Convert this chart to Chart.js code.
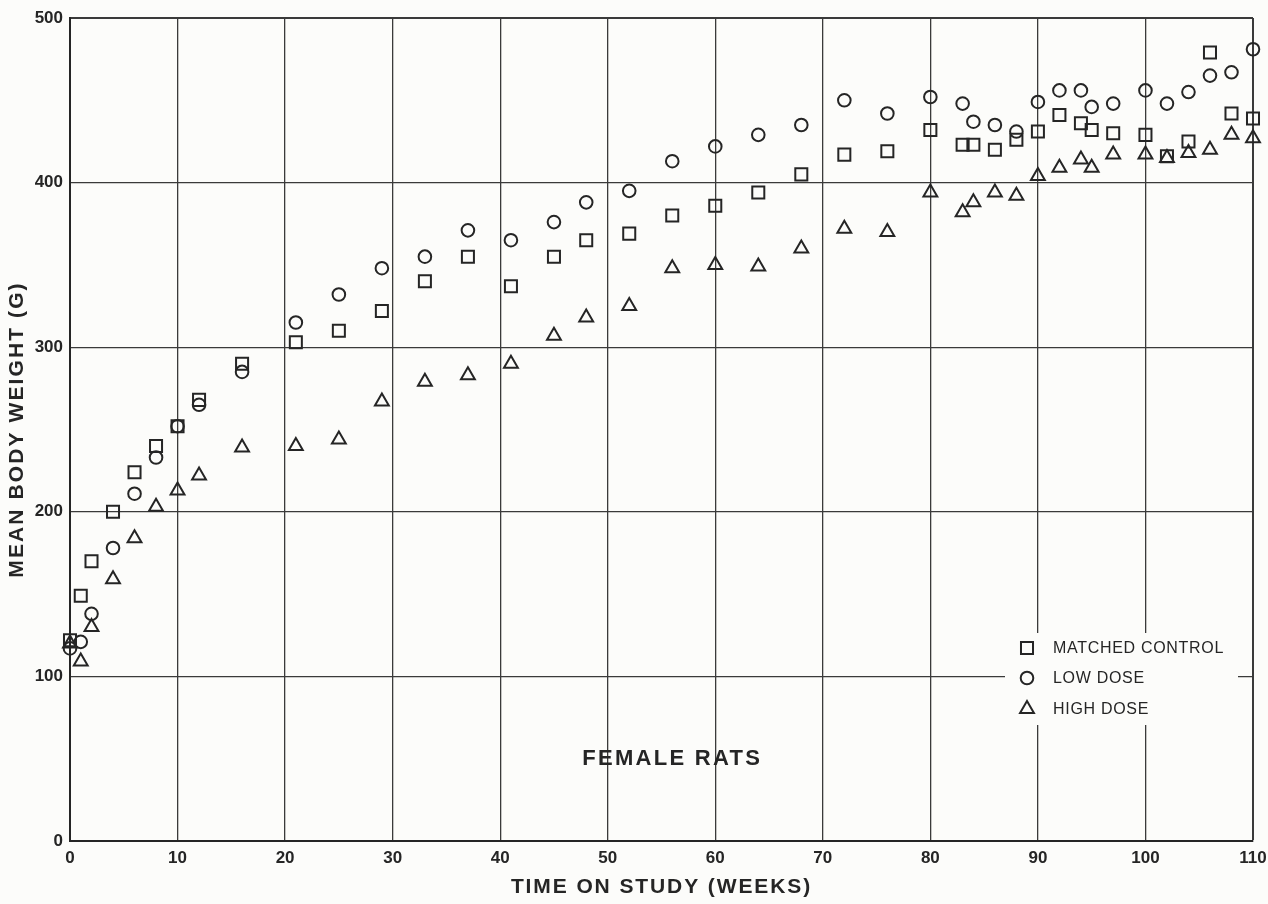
<!DOCTYPE html>
<html>
<head>
<meta charset="utf-8">
<script src="https://cdn.jsdelivr.net/npm/chart.js@4.4.0/dist/chart.umd.min.js"></script>
<style>
  html, body { margin: 0; padding: 0; background: #fcfcfa; }
  #wrap { width: 1268px; height: 904px; position: relative; }
</style>
</head>
<body>
<div id="wrap"><canvas id="c"></canvas></div>
<script>
// ---- data ----
const weeks = [0,1,2,4,6,8,10,12,16,21,25,29,33,37,41,45,48,52,56,60,64,68,72,76,80,83,84,86,88,90,92,94,95,97,100,102,104,106,108,110];
const matchedControl = [122,149,170,200,224,240,252,268,290,303,310,322,340,355,337,355,365,369,380,386,394,405,417,419,432,423,423,420,426,431,441,436,432,430,429,416,425,479,442,439];
const lowDose = [117,121,138,178,211,233,252,265,285,315,332,348,355,371,365,376,388,395,413,422,429,435,450,442,452,448,437,435,431,449,456,456,446,448,456,448,455,465,467,481];
const highDose = [120,109,130,159,184,203,213,222,239,240,244,267,279,283,290,307,318,325,348,350,349,360,372,370,394,382,388,394,392,404,409,414,409,417,417,415,418,420,429,427];
const seriesLabels = ['MATCHED CONTROL', 'LOW DOSE', 'HIGH DOSE'];
const xTickValues = [0,10,20,30,40,50,60,70,80,90,100,110];
const yTickValues = [0,100,200,300,400,500];
const xTitle = 'TIME ON STUDY (WEEKS)';
const yTitle = 'MEAN BODY WEIGHT (G)';
const panelNote = 'FEMALE RATS';

// ---- styling ----
const INK = '#252525';
const GRID = '#3a3a3a';
const BG = '#fcfcfa';
const FONT = "'Liberation Sans', Arial, Helvetica, sans-serif";

function pts(vals) { return weeks.map((w, i) => ({ x: w, y: vals[i] })); }

const markerBase = {
  showLine: false,
  borderColor: INK,
  backgroundColor: 'rgba(0,0,0,0)',
  pointBorderColor: INK,
  pointBackgroundColor: 'rgba(0,0,0,0)',
  pointBorderWidth: 2,
  pointHoverBorderWidth: 2,
  clip: false
};

const datasets = [
  Object.assign({}, markerBase, { label: seriesLabels[0], data: pts(matchedControl), pointStyle: 'rect', pointRadius: 8.5, pointHoverRadius: 8.5 }),
  Object.assign({}, markerBase, { label: seriesLabels[1], data: pts(lowDose), pointStyle: 'circle', pointRadius: 6.3, pointHoverRadius: 6.3 }),
  Object.assign({}, markerBase, { label: seriesLabels[2], data: pts(highDose), pointStyle: 'triangle', pointRadius: 8, pointHoverRadius: 8 })
];

const decor = {
  id: 'decor',
  afterUpdate(chart) {
    const spacing = { x: '1.9px', y: '2.1px' };
    for (const id of ['x', 'y']) {
      const s = chart.scales[id];
      if (s && !s._lsWrapped) {
        const orig = s.drawTitle.bind(s);
        s.drawTitle = function () {
          const ctx = this.ctx;
          ctx.save();
          ctx.letterSpacing = spacing[id];
          orig();
          ctx.restore();
        };
        s._lsWrapped = true;
      }
    }
  },
  beforeDatasetsDraw(chart) {
    const { ctx, chartArea: a } = chart;
    ctx.save();
    ctx.fillStyle = BG;
    ctx.fillRect(a.right - 248, a.bottom - 208, 233, 92);
    ctx.restore();
  },
  afterDatasetsDraw(chart) {
    const { ctx, chartArea: a, scales } = chart;
    // legend
    const rows = [a.bottom - 193, a.bottom - 163, a.bottom - 132];
    chart.data.datasets.forEach((ds, i) => {
      ctx.save();
      ctx.strokeStyle = INK;
      ctx.fillStyle = 'rgba(0,0,0,0)';
      ctx.lineWidth = 2;
      Chart.helpers.drawPoint(ctx, { pointStyle: ds.pointStyle, radius: ds.pointRadius, borderWidth: 2, rotation: 0 }, a.right - 226, rows[i]);
      ctx.restore();
      ctx.save();
      ctx.fillStyle = INK;
      ctx.font = `16px ${FONT}`;
      ctx.letterSpacing = '0.7px';
      ctx.textAlign = 'left';
      ctx.textBaseline = 'middle';
      ctx.fillText(ds.label, a.right - 200, rows[i] + 1);
      ctx.restore();
    });
    // panel note
    ctx.save();
    ctx.fillStyle = INK;
    ctx.font = `bold 22px ${FONT}`;
    ctx.letterSpacing = '2.3px';
    ctx.textAlign = 'center';
    ctx.textBaseline = 'middle';
    ctx.fillText(panelNote, scales.x.getPixelForValue(56), scales.y.getPixelForValue(50));
    ctx.restore();
  }
};

new Chart(document.getElementById('c'), {
  type: 'scatter',
  data: { datasets },
  options: {
    responsive: true,
    maintainAspectRatio: false,
    animation: false,
    events: [],
    layout: { padding: { left: 0, right: 15, top: 18, bottom: 0 } },
    plugins: { legend: { display: false }, tooltip: { enabled: false }, title: { display: false } },
    scales: {
      x: {
        type: 'linear', position: 'bottom', min: 0, max: 110,
        afterBuildTicks: s => { s.ticks = xTickValues.map(v => ({ value: v })); },
        afterFit: s => { s.height = 63; s.paddingLeft = 0; s.paddingRight = 0; },
        grid: { color: GRID, lineWidth: c => (c.tick && c.tick.value === 110 ? 2 : 1.3), drawTicks: false },
        border: { display: true, color: INK, width: 2 },
        ticks: { color: INK, font: { family: FONT, size: 17, weight: 'bold' }, padding: 7, maxRotation: 0, autoSkip: false },
        title: { display: true, text: xTitle, color: INK, font: { family: FONT, size: 21, weight: 'bold' }, padding: { top: 0, bottom: 4 } }
      },
      y: {
        type: 'linear', position: 'left', min: 0, max: 500,
        afterBuildTicks: s => { s.ticks = yTickValues.map(v => ({ value: v })); },
        afterFit: s => { s.width = 70; s.paddingTop = 0; s.paddingBottom = 0; },
        grid: { color: GRID, lineWidth: c => (c.tick && c.tick.value === 500 ? 2 : 1.3), drawTicks: false },
        border: { display: true, color: INK, width: 2 },
        ticks: { color: INK, font: { family: FONT, size: 17, weight: 'bold' }, padding: 7 },
        title: { display: true, text: yTitle, color: INK, font: { family: FONT, size: 21, weight: 'bold' }, padding: { top: 5, bottom: 0 } }
      }
    }
  },
  plugins: [decor]
});
</script>
</body>
</html>
